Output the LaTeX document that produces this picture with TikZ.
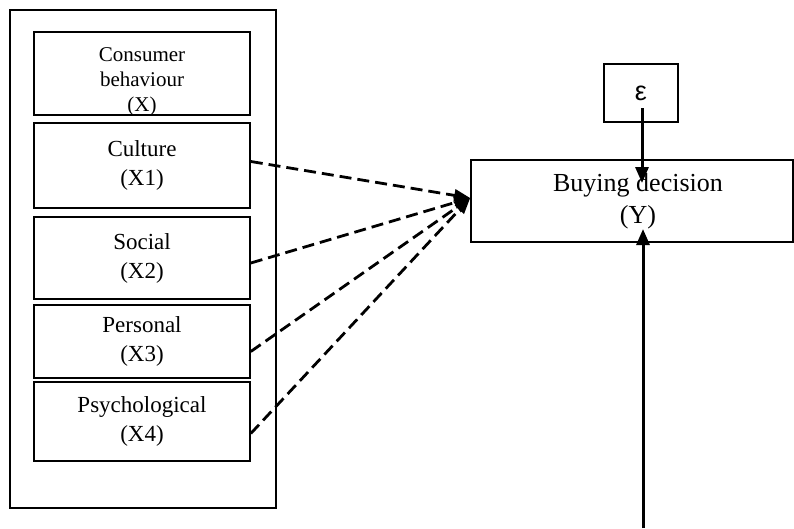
\documentclass[tikz,border=0pt]{standalone}
\usepackage{fontspec}
\setmainfont{Liberation Serif}
\newfontfamily\epsfont{Liberation Sans}
\usetikzlibrary{arrows.meta}

\begin{document}
\begin{tikzpicture}[x=1pt,y=-1pt,
    factorbox/.style={draw, line width=1.6pt, minimum width=216pt, inner sep=0pt, align=center,
      font=\fontsize{23}{29}\selectfont},
    effect/.style={line width=2.8pt, dash pattern=on 12pt off 6pt, -{Triangle[length=16pt,width=12pt]}},
    solidarrow/.style={line width=3pt, -{Triangle[length=16pt,width=13pt]}}]
      \useasboundingbox (0,0) rectangle (794,528);

      % Outer frame around the factors
      \node[draw, line width=1.8pt, minimum width=266pt, minimum height=498pt, inner sep=0pt] (frame) at (143,259) {};

      % Factor boxes
      \node[factorbox, minimum height=83pt] (consumer) at (142,73.5) {};
      \begin{scope}
        \clip (consumer.south west) rectangle (consumer.north east);
        \node[align=center, font=\fontsize{21}{25}\selectfont] (consumertext) at (142,82) {Consumer\\behaviour\\(X)};
      \end{scope}
      \node[factorbox, minimum height=85pt] (culture) at (142,165.5) {Culture\\(X1)};
      \node[factorbox, minimum height=82pt] (social) at (142,258) {Social\\(X2)};
      \node[factorbox, minimum height=73pt] (personal) at (142,341.5) {Personal\\(X3)};
      \node[factorbox, minimum height=79pt] (psych) at (142,421.5) {Psychological\\(X4)};

      % Dependent variable and error term
      \node[draw, line width=1.6pt, minimum width=322pt, minimum height=82pt, inner sep=0pt, align=center,
        font=\fontsize{26}{32}\selectfont] (buying) at (632,201) {\hspace{12pt}Buying decision\\\hspace{12pt}(Y)};
      \node[draw, line width=1.6pt, minimum width=74pt, minimum height=58pt, inner sep=0pt,
        font=\epsfont\fontsize{27}{30}\selectfont] (eps) at (641,93) {ε};

      % Free ends of the solid arrows
      \coordinate (base) at (643,528);
      \coordinate (ytip) at (643,229);
      \coordinate (epstip) at (642,183);

      % Dashed arrows from the factors
      \draw[effect] ([yshift=4pt]culture.east) -- ([yshift=3pt]buying.west);
      \draw[effect] ([yshift=-5pt]social.east) -- ([yshift=3pt]buying.west);
      \draw[effect] ([yshift=-10pt]personal.east) -- ([yshift=3pt]buying.west);
      \draw[effect] ([yshift=-12pt]psych.east) -- ([yshift=3pt]buying.west);

      % Solid arrows
      \draw[solidarrow] ([xshift=1pt,yshift=-15pt]eps.center) -- (epstip);
      \draw[solidarrow] (base) -- (ytip);
    \end{tikzpicture}
\end{document}
